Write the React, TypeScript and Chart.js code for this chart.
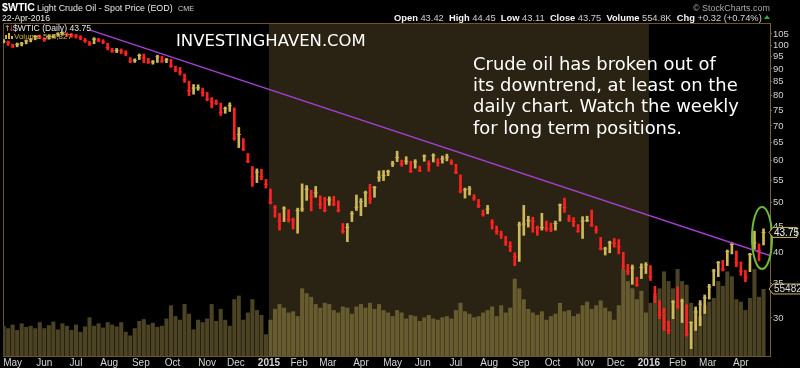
import React, { useEffect, useRef } from 'react';
import { Chart, registerables } from 'chart.js';
Chart.register(...registerables);

// ---- axis data ----
const monthStarts = [0, 21, 42, 64, 85, 106, 129, 148, 170, 190, 209, 231, 252, 272, 294, 316, 337, 358, 380, 400, 422, 441, 461, 483];
const monthLabels = ['May', 'Jun', 'Jul', 'Aug', 'Sep', 'Oct', 'Nov', 'Dec', '2015', 'Feb', 'Mar', 'Apr', 'May', 'Jun', 'Jul', 'Aug', 'Sep', 'Oct', 'Nov', 'Dec', '2016', 'Feb', 'Mar', 'Apr'];
const yearStarts = [170, 422];
const priceTicks = [30, 35, 40, 45, 50, 55, 60, 65, 70, 75, 80, 85, 90, 95, 100, 105];
const firstDay = -6;
const dayStep = 3;

// ---- price series (one bar per 3 trading days) ----
const closes = [
  101.6, 101.0,
  99.4, 100.2, 100.6, 101.8, 102.4, 103.8, 103.5,
  102.5, 103.9, 104.0, 105.0, 105.3, 104.7, 104.4,
  104.0, 103.2, 102.0, 100.6, 102.6, 102.2, 101.4, 98.9,
  97.5, 97.7, 97.3, 96.4, 93.1, 93.5, 95.5,
  94.5, 92.7, 92.8, 94.9, 93.1, 93.6, 91.2,
  89.7, 88.8, 85.8, 81.8, 82.7, 82.8, 81.0,
  78.8, 77.9, 77.4, 74.2, 75.6, 76.5, 66.2,
  67.4, 63.1, 59.9, 55.9, 57.1, 56.0, 54.1,
  50.0, 48.8, 46.0, 48.7, 46.3, 46.2, 48.2,
  48.5, 52.9, 51.2, 52.1, 49.5, 48.2,
  50.5, 49.6, 48.2, 43.9, 44.7, 47.5, 48.9,
  50.1, 52.1, 50.8, 53.3, 55.7, 56.2, 57.2,
  59.2, 60.9, 59.3, 59.9, 57.3, 59.7, 57.5,
  61.3, 59.1, 61.4, 59.5, 60.5, 61.0, 59.6,
  57.0, 52.5, 52.8, 53.0, 50.9, 49.2, 47.4, 48.5,
  45.7, 43.9, 43.3, 41.9, 41.1, 39.3, 45.2,
  45.4, 46.1, 45.9, 44.6, 44.7, 44.5, 44.4,
  45.5, 49.4, 48.8, 46.4, 45.9, 43.9, 46.0,
  46.1, 45.2, 44.2, 40.7, 40.7, 41.8, 41.7,
  41.1, 37.7, 36.8, 37.4, 34.7, 37.5, 37.9,
  36.0, 33.3, 30.4, 29.4, 28.4, 32.2,
  31.6, 32.3, 27.9, 29.4, 30.8, 31.9, 32.8,
  34.4, 36.9, 38.3, 37.2, 40.2, 41.5, 38.3,
  36.9, 35.9, 39.7, 41.8, 40.4, 43.75,
];
const highs = [
  102.4, 101.8,
  100.4, 100.9, 101.2, 102.3, 102.9, 104.3, 104.5,
  103.2, 104.4, 104.7, 105.6, 106.0, 105.5, 105.2,
  104.8, 104.2, 103.0, 101.6, 103.3, 103.0, 102.4, 100.8,
  98.6, 98.5, 98.3, 97.5, 94.6, 94.1, 96.1,
  96.1, 94.3, 93.4, 95.6, 95.1, 94.3, 93.9,
  91.1, 90.6, 88.0, 85.3, 84.0, 83.9, 82.7,
  81.2, 79.3, 78.5, 77.4, 76.1, 77.5, 75.8,
  69.5, 66.2, 62.0, 58.5, 57.9, 57.8, 55.3,
  53.0, 49.3, 47.6, 49.0, 48.4, 46.6, 48.7,
  54.2, 53.8, 52.7, 53.6, 51.4, 51.1,
  51.2, 51.3, 50.3, 45.5, 45.5, 48.0, 51.6,
  50.8, 52.5, 54.1, 53.6, 57.4, 57.5, 57.6,
  59.9, 62.6, 60.2, 61.1, 59.9, 60.3, 58.6,
  61.6, 60.0, 61.9, 60.6, 61.3, 61.8, 60.3,
  59.1, 56.4, 53.2, 53.6, 51.7, 50.6, 48.3, 49.3,
  46.3, 45.0, 44.0, 43.0, 42.0, 40.0, 45.8,
  49.3, 47.0, 46.8, 45.0, 47.6, 46.0, 45.6,
  46.0, 49.6, 50.9, 47.2, 46.7, 45.3, 46.9,
  47.0, 48.3, 45.0, 42.8, 41.0, 42.1, 42.6,
  42.4, 40.1, 38.0, 37.9, 35.9, 38.1, 38.3,
  37.8, 34.5, 32.4, 31.3, 29.6, 32.4,
  34.4, 32.6, 31.8, 29.5, 31.5, 32.4, 33.2,
  34.8, 37.2, 38.5, 38.7, 40.5, 41.9, 40.3,
  38.4, 37.0, 39.9, 44.0, 41.6, 44.45,
];
const lows = [
  100.9, 99.8,
  98.9, 99.2, 99.6, 100.5, 101.4, 102.3, 102.8,
  101.6, 102.6, 103.1, 103.9, 104.5, 103.8, 103.4,
  103.1, 102.4, 101.1, 99.8, 100.6, 101.4, 100.6, 97.9,
  96.8, 96.7, 96.3, 95.4, 92.5, 92.6, 93.8,
  92.5, 92.2, 91.9, 92.6, 92.6, 92.5, 90.6,
  88.9, 87.6, 84.8, 80.0, 80.5, 81.9, 79.8,
  78.2, 75.8, 76.9, 73.3, 74.0, 74.6, 65.7,
  63.6, 62.8, 59.5, 53.6, 54.5, 55.2, 53.2,
  49.6, 46.8, 44.2, 45.9, 45.8, 44.4, 43.6,
  48.0, 50.4, 48.1, 51.1, 48.6, 47.9,
  49.3, 49.2, 47.9, 43.6, 42.0, 45.9, 48.2,
  47.1, 49.0, 49.7, 51.1, 54.8, 55.0, 56.2,
  58.5, 59.8, 58.6, 59.1, 57.0, 58.1, 57.2,
  59.9, 57.3, 59.7, 58.6, 59.4, 60.0, 59.0,
  56.7, 52.1, 50.9, 51.6, 50.4, 48.8, 47.0, 47.5,
  44.4, 43.4, 42.6, 41.3, 40.2, 37.8, 38.5,
  43.2, 44.8, 43.8, 43.2, 44.2, 44.0, 43.9,
  44.2, 46.0, 47.8, 45.9, 44.9, 43.8, 42.6,
  45.9, 44.9, 43.6, 40.5, 39.6, 40.0, 41.0,
  39.8, 37.2, 36.3, 34.8, 34.5, 35.7, 36.5,
  35.4, 32.1, 29.9, 28.4, 28.0, 29.9,
  31.3, 29.4, 27.7, 26.2, 28.4, 29.0, 30.6,
  32.6, 34.6, 36.0, 36.9, 37.8, 39.8, 37.6,
  36.2, 35.2, 36.8, 40.6, 38.6, 41.4,
];
// volume, thousands of contracts
const volumes = [
  250, 230,
  260, 215, 270, 240, 250, 230, 280,
  230, 255, 285, 220, 270, 250, 215,
  260, 200, 245, 320, 250, 270, 235, 280,
  260, 245, 280, 200, 170, 230, 290,
  305, 260, 275, 240, 250, 310, 420,
  330, 300, 430, 350, 220, 300, 280,
  310, 430, 290, 390, 300, 250, 470,
  500, 300, 360, 470, 380, 340, 180,
  300, 390, 430, 400, 360, 370, 330,
  560, 520, 490, 430, 400, 440,
  430, 380, 360, 410, 400, 350, 410,
  430, 400, 440, 390, 430, 380, 360,
  330, 380, 360, 310, 340, 330, 290,
  320, 340, 310, 300, 320, 330, 310,
  380, 440, 370, 350, 320, 330, 360, 380,
  410, 330, 420, 360, 400, 640, 560,
  470, 390, 360, 340, 370, 300, 330,
  350, 440, 370, 380, 330, 350, 420,
  450, 390, 420, 460, 400, 370, 300,
  420, 720, 620, 560, 470, 540, 360,
  440, 500, 560, 700, 620, 560,
  720, 620, 590, 440, 380, 330, 420,
  450, 480, 620, 580, 700, 660, 470,
  450, 380, 480, 720, 490, 554.827,
];
const trendline = [{ x: 51, y: 106.9 }, { x: 502.3, y: 39.5 }];
const breakout = { x: 497, y: 42.7 };
const lastOpen = 43.42, lastHigh = 44.45, lastLow = 43.11, lastClose = 43.75;
const lastVolume = 554827, lastChg = 0.32, lastChgPct = 0.74;

const UP = '#cdb85c';
const DOWN = '#ff2222';
const VOL_2015 = '#675b30';
const VOL_OTHER = '#4b4323';
const SANS = '"Liberation Sans", Arial, sans-serif';
const DEJA = '"DejaVu Sans", sans-serif';

function fitText(ctx: CanvasRenderingContext2D, text: string, x: number, y: number, width: number, weight: string, family: string, color: string) {
  ctx.font = `${weight} 20px ${family}`;
  const w = ctx.measureText(text).width;
  const size = (20 * width) / w;
  ctx.font = `${weight} ${size}px ${family}`;
  ctx.fillStyle = color;
  ctx.textAlign = 'left';
  ctx.textBaseline = 'alphabetic';
  ctx.fillText(text, x, y);
}

const bgPlugin = {
  id: 'bgPlugin',
  beforeDraw(chart: any) {
    const { ctx, chartArea: a, scales } = chart;
    ctx.save();
    ctx.fillStyle = '#000';
    ctx.fillRect(0, 0, chart.width, chart.height);
    const x0 = scales.x.getPixelForValue(yearStarts[0]);
    const x1 = scales.x.getPixelForValue(yearStarts[1]);
    ctx.fillStyle = '#2a2212';
    ctx.fillRect(x0, a.top, x1 - x0, a.bottom - a.top);
    ctx.strokeStyle = '#6a5628';
    ctx.lineWidth = 1;
    ctx.beginPath();
    ctx.moveTo(a.left + 0.5, a.bottom);
    ctx.lineTo(a.left + 0.5, a.top + 0.5);
    ctx.lineTo(a.right, a.top + 0.5);
    ctx.stroke();
    ctx.restore();
  },
};

const overlayPlugin = {
  id: 'overlayPlugin',
  afterDraw(chart: any) {
    const { ctx, chartArea: a, scales } = chart;
    ctx.save();
    // breakout ellipse
    const ex = scales.x.getPixelForValue(breakout.x);
    const ey = scales.y.getPixelForValue(breakout.y);
    ctx.strokeStyle = '#6dbb33';
    ctx.lineWidth = 2;
    ctx.beginPath();
    ctx.ellipse(ex, ey, 10, 31, 0, 0, Math.PI * 2);
    ctx.stroke();

    // price / volume tags
    const tag = (yc: number, text: string, w: number, color: string) => {
      ctx.beginPath();
      ctx.moveTo(a.right - 1, yc);
      ctx.lineTo(a.right + 3, yc - 5);
      ctx.lineTo(a.right + w, yc - 5);
      ctx.lineTo(a.right + w, yc + 5);
      ctx.lineTo(a.right + 3, yc + 5);
      ctx.closePath();
      ctx.fillStyle = '#0a0a0a';
      ctx.fill();
      ctx.strokeStyle = '#c9b45e';
      ctx.lineWidth = 1;
      ctx.stroke();
      ctx.fillStyle = color;
      ctx.font = `10px ${SANS}`;
      ctx.textAlign = 'left';
      ctx.textBaseline = 'middle';
      ctx.fillText(text, a.right + 4, yc + 0.5);
    };
    tag(scales.y.getPixelForValue(lastClose), lastClose.toFixed(2), 27, '#f0f0f0');
    tag(scales.yv.getPixelForValue(lastVolume / 1000), String(lastVolume), 32, '#d8d8d8');

    // watermark + comment
    fitText(ctx, 'INVESTINGHAVEN.COM', 176, 46, 190, 'normal', DEJA, '#ffffff');
    const lines = ['Crude oil has broken out of', 'its downtrend, at least on the', 'daily chart. Watch the weekly', 'for long term positions.'];
    ctx.font = `20px ${DEJA}`;
    const size = (20 * 243) / ctx.measureText(lines[0]).width;
    ctx.font = `${size}px ${DEJA}`;
    ctx.fillStyle = '#ffffff';
    ctx.textAlign = 'left';
    ctx.textBaseline = 'alphabetic';
    lines.forEach((l, i) => ctx.fillText(l, 473, 70 + i * 21.2));

    // legend in plot
    ctx.fillStyle = '#d8c060';
    ctx.font = `8px ${DEJA}`;
    ctx.fillText('↑', 4, 31);
    ctx.fillStyle = '#e04040';
    ctx.fillText('↓', 8, 31);
    fitText(ctx, `$WTIC (Daily) ${lastClose.toFixed(2)}`, 13, 31, 78, 'normal', SANS, '#e6e6e6');
    ctx.fillStyle = '#d4b23a';
    ctx.fillRect(5, 35, 2, 4);
    ctx.fillRect(8, 33, 2, 6);
    ctx.fillRect(11, 36, 2, 3);
    fitText(ctx, `Volume ${lastVolume.toLocaleString('en-US')}`, 14, 39, 58, 'normal', SANS, '#d4b23a');

    // header
    fitText(ctx, '$WTIC', 2, 11, 33, 'bold', SANS, '#ffffff');
    fitText(ctx, 'Light Crude Oil - Spot Price (EOD)', 37, 11, 136, 'normal', SANS, '#e8e8e8');
    fitText(ctx, 'CME', 178, 11, 16, 'normal', SANS, '#d0d0d0');
    fitText(ctx, '22-Apr-2016', 2, 21, 48, 'normal', SANS, '#e8e8e8');
    fitText(ctx, '© StockCharts.com', 693, 11, 77, 'normal', SANS, '#a8a8a8');

    const pieces: [string, boolean][] = [
      ['Open', true], [` ${lastOpen.toFixed(2)}  `, false],
      ['High', true], [` ${lastHigh.toFixed(2)}  `, false],
      ['Low', true], [` ${lastLow.toFixed(2)}  `, false],
      ['Close', true], [` ${lastClose.toFixed(2)}  `, false],
      ['Volume', true], [` ${(lastVolume / 1000).toFixed(1)}K  `, false],
      ['Chg', true], [` +${lastChg.toFixed(2)} (+${lastChgPct.toFixed(2)}%)`, false],
    ];
    const base = 10;
    let total = 0;
    pieces.forEach(([t, b]) => {
      ctx.font = `${b ? 'bold' : 'normal'} ${base}px ${SANS}`;
      total += ctx.measureText(t).width;
    });
    const k = 368 / total;
    let cx = 394;
    pieces.forEach(([t, b]) => {
      ctx.font = `${b ? 'bold' : 'normal'} ${base * k}px ${SANS}`;
      ctx.fillStyle = b ? '#f4f4f4' : '#d0d0d0';
      ctx.fillText(t, cx, 21);
      cx += ctx.measureText(t).width;
    });
    ctx.fillStyle = '#2fae2f';
    ctx.beginPath();
    ctx.moveTo(764, 19);
    ctx.lineTo(770, 19);
    ctx.lineTo(767, 15);
    ctx.closePath();
    ctx.fill();
    ctx.restore();
  },
};

export default function App() {
  const ref = useRef<HTMLCanvasElement>(null);
  useEffect(() => {
    document.body.style.margin = '0';
    document.body.style.background = '#000';
    const canvas = ref.current as HTMLCanvasElement;
    const days = closes.map((_, i) => firstDay + i * dayStep);
    const priceData = days.map((d, i) => ({ x: d, y: [lows[i], highs[i]] }));
    const closeData = days.map((d, i) => ({ x: d, y: closes[i] }));
    const priceColors = closes.map((c, i) => (i > 0 && c < closes[i - 1] ? DOWN : UP));
    const volData = days.map((d, i) => ({ x: d, y: volumes[i] }));
    const volColors = days.map((d) => (d >= yearStarts[0] && d < yearStarts[1] ? VOL_2015 : VOL_OTHER));

    const chart = new Chart(canvas, {
      type: 'bar',
      data: {
        datasets: [
          {
            type: 'line',
            data: trendline as any,
            borderColor: '#a43fd2',
            borderWidth: 1.5,
            pointRadius: 0,
            yAxisID: 'y',
            order: 0,
          } as any,
          {
            type: 'scatter',
            data: closeData as any,
            pointStyle: 'line',
            pointRadius: 2,
            borderWidth: 1,
            borderColor: priceColors,
            backgroundColor: priceColors,
            yAxisID: 'y',
            order: 1,
          } as any,
          {
            type: 'bar',
            data: priceData as any,
            backgroundColor: priceColors,
            barThickness: 2,
            grouped: false,
            yAxisID: 'y',
            order: 1,
          } as any,
          {
            type: 'bar',
            data: volData as any,
            backgroundColor: volColors,
            barPercentage: 0.9,
            categoryPercentage: 1,
            grouped: false,
            yAxisID: 'yv',
            order: 2,
          } as any,
        ],
      },
      options: {
        responsive: false,
        animation: false,
        devicePixelRatio: 1,
        layout: { autoPadding: false, padding: { top: 23, left: 3, right: 0, bottom: 0 } },
        plugins: { legend: { display: false }, tooltip: { enabled: false }, title: { display: false } },
        scales: {
          x: {
            type: 'linear',
            min: -6.4,
            max: 502.3,
            offset: false,
            grid: { display: false, drawTicks: false },
            border: { display: true, color: '#6a5628' },
            afterBuildTicks: (s: any) => {
              s.ticks = monthStarts.map((v) => ({ value: v }));
            },
            afterFit: (s: any) => {
              s.height = 12;
            },
            ticks: {
              autoSkip: false,
              maxRotation: 0,
              padding: 1,
              color: '#d4d4d4',
              font: (c: any) => ({ family: SANS, size: 10, weight: /^\d{4}$/.test(monthLabels[c.index] || '') ? 'bold' : 'normal' }),
              callback: (_v: any, i: number) => monthLabels[i],
            },
          },
          y: {
            type: 'logarithmic',
            position: 'right',
            min: 25.37,
            max: 110.2,
            grid: { drawOnChartArea: false, drawTicks: true, tickLength: 2, color: '#7a6432' },
            border: { display: true, color: '#7a6432', dash: [1, 1] },
            afterBuildTicks: (s: any) => {
              s.ticks = priceTicks.map((v) => ({ value: v }));
            },
            afterFit: (s: any) => {
              s.width = 30;
            },
            ticks: {
              autoSkip: false,
              padding: 1,
              color: '#d0d0d0',
              font: { family: SANS, size: 9.5 },
              callback: (v: any) => String(v),
            },
          },
          yv: { type: 'linear', display: false, min: 0, max: 2757 },
        },
      } as any,
      plugins: [bgPlugin, overlayPlugin],
    });
    return () => chart.destroy();
  }, []);
  return <canvas ref={ref} width={800} height={368} style={{ display: 'block', width: 800, height: 368 }} />;
}
